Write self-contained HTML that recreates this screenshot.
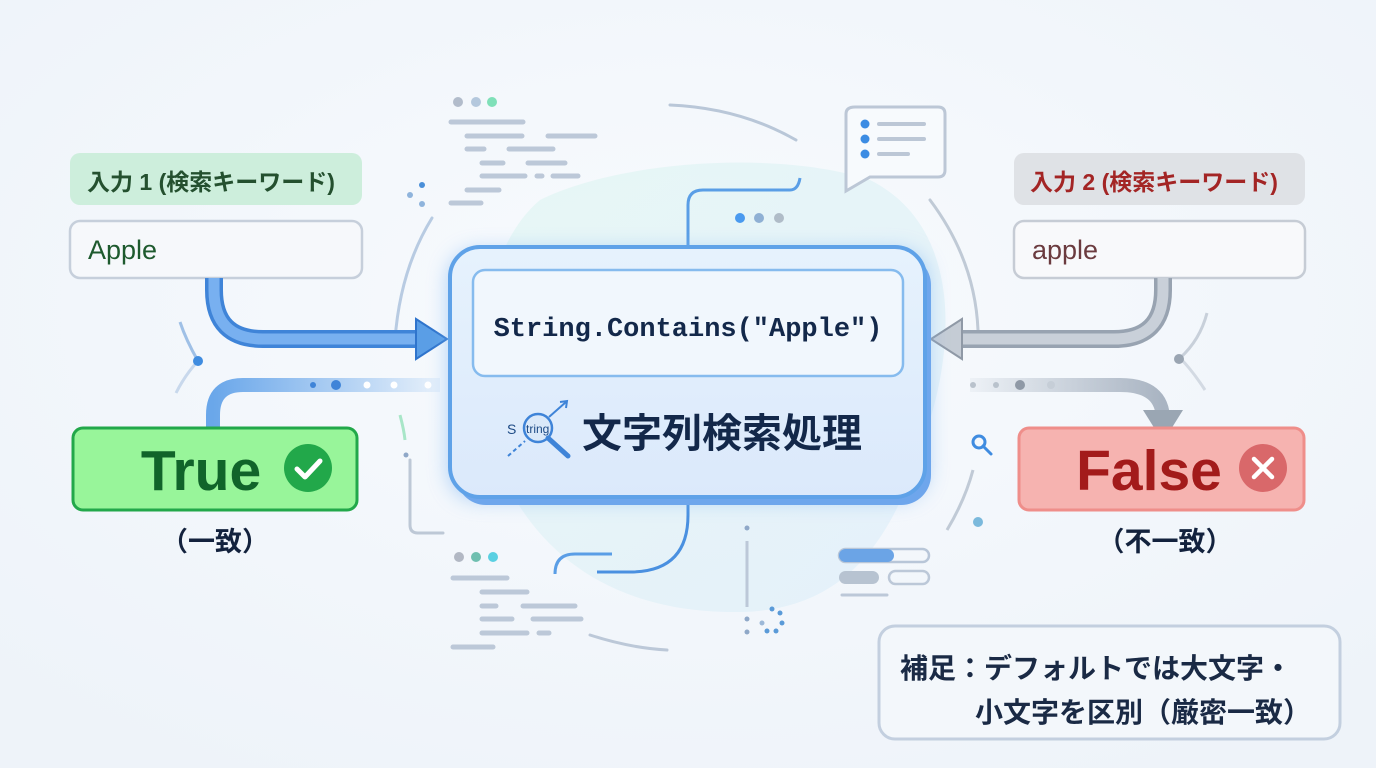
<!DOCTYPE html>
<html><head><meta charset="utf-8"><style>
html,body{margin:0;padding:0;width:1376px;height:768px;overflow:hidden;background:#f5f8fc}
svg{display:block}
text{font-family:"Liberation Sans","Noto Sans CJK JP",sans-serif}
</style></head><body>
<svg width="1376" height="768" viewBox="0 0 1376 768" xmlns="http://www.w3.org/2000/svg">
<defs>
<radialGradient id="bg" cx="50%" cy="40%" r="70%"><stop offset="0" stop-color="#f8fbfe"/><stop offset="1" stop-color="#eef3f9"/></radialGradient>
<linearGradient id="blob" x1="0" y1="0" x2="1" y2="1"><stop offset="0" stop-color="#e2f6f3"/><stop offset="1" stop-color="#e0eefa"/></linearGradient>
<linearGradient id="main" x1="0" y1="0" x2="0" y2="1"><stop offset="0" stop-color="#e6f2fd"/><stop offset="1" stop-color="#dbe9fb"/></linearGradient>
<linearGradient id="fadeB" x1="0" y1="0" x2="1" y2="0"><stop offset="0" stop-color="#6aa7ea"/><stop offset="1" stop-color="#6aa7ea" stop-opacity="0.1"/></linearGradient>
<linearGradient id="fadeG" x1="0" y1="0" x2="1" y2="0"><stop offset="0" stop-color="#a9b4c2" stop-opacity="0.1"/><stop offset="1" stop-color="#a9b4c2"/></linearGradient>
<filter id="glow" x="-20%" y="-20%" width="140%" height="140%"><feGaussianBlur stdDeviation="10"/></filter>
</defs>
<rect width="1376" height="768" fill="url(#bg)"/>
<path d="M540 200 C620 160 780 150 870 180 C950 220 960 320 930 420 C900 520 860 610 740 612 C620 614 540 560 500 470 C465 380 480 250 540 200Z" fill="url(#blob)" opacity="0.75"/>
<g><circle cx="458" cy="102" r="5" fill="#b2bccb"/><circle cx="476" cy="102" r="5" fill="#b4c8dd"/><circle cx="492" cy="102" r="5" fill="#7fe0b8"/></g>
<g stroke="#bcc8d8" stroke-width="5" stroke-linecap="round">
<line x1="451" y1="122" x2="523" y2="122"/><line x1="467" y1="136" x2="522" y2="136"/><line x1="548" y1="136" x2="595" y2="136"/>
<line x1="467" y1="149" x2="484" y2="149"/><line x1="509" y1="149" x2="553" y2="149"/>
<line x1="482" y1="163" x2="503" y2="163"/><line x1="528" y1="163" x2="565" y2="163"/>
<line x1="482" y1="176" x2="525" y2="176"/><line x1="537" y1="176" x2="542" y2="176"/><line x1="553" y1="176" x2="578" y2="176"/>
<line x1="467" y1="190" x2="499" y2="190"/><line x1="451" y1="203" x2="481" y2="203"/>
</g>
<circle cx="422" cy="185" r="3" fill="#4a8fd8"/><circle cx="410" cy="195" r="3" fill="#8fb4dc"/><circle cx="422" cy="204" r="3" fill="#8fb4dc"/>
<path d="M670 105 Q740 108 796 140" fill="none" stroke="#b9c7d8" stroke-width="3" stroke-linecap="round"/>
<path d="M432 218 Q400 270 395 340" fill="none" stroke="#b8cbe2" stroke-width="3" stroke-linecap="round"/>
<path d="M930 200 Q975 260 978 330" fill="none" stroke="#c0cad6" stroke-width="3" stroke-linecap="round"/>
<path d="M855 107 H938 Q945 107 945 114 V170 Q945 177 938 177 H870 L846 191 V114 Q846 107 855 107Z" fill="#f7fafd" stroke="#bcc7d6" stroke-width="3"/>
<g fill="#3c8ce3"><circle cx="865" cy="124" r="4.5"/><circle cx="865" cy="139" r="4.5"/><circle cx="865" cy="154" r="4.5"/></g>
<g stroke="#bcc7d6" stroke-width="4" stroke-linecap="round"><line x1="879" y1="124" x2="924" y2="124"/><line x1="879" y1="139" x2="924" y2="139"/><line x1="879" y1="154" x2="908" y2="154"/></g>
<path d="M688 245 V205 Q688 190 703 190 H790 Q798 190 800 178" fill="none" stroke="#5a9ee6" stroke-width="3"/>
<circle cx="740" cy="218" r="5" fill="#4a9aef"/><circle cx="759" cy="218" r="5" fill="#8fb0d4"/><circle cx="779" cy="218" r="5" fill="#b0bcc8"/>
<path d="M410 460 V525 Q410 533 418 533 H443" fill="none" stroke="#bdc8d6" stroke-width="3" stroke-linecap="round"/>
<path d="M400 415 Q404 430 405 440" fill="none" stroke="#a8e6c8" stroke-width="3"/>
<circle cx="406" cy="455" r="2.5" fill="#8fa8c8"/>
<circle cx="459" cy="557" r="5" fill="#b2b8c4"/><circle cx="476" cy="557" r="5" fill="#6fbfb0"/><circle cx="493" cy="557" r="5" fill="#5ad0e2"/>
<g stroke="#bcc8d8" stroke-width="5" stroke-linecap="round">
<line x1="453" y1="578" x2="507" y2="578"/><line x1="482" y1="592" x2="527" y2="592"/><line x1="482" y1="606" x2="496" y2="606"/><line x1="523" y1="606" x2="575" y2="606"/>
<line x1="482" y1="619" x2="512" y2="619"/><line x1="533" y1="619" x2="581" y2="619"/><line x1="482" y1="633" x2="527" y2="633"/><line x1="539" y1="633" x2="549" y2="633"/><line x1="453" y1="647" x2="493" y2="647"/>
</g>
<path d="M590 635 Q630 648 667 650" fill="none" stroke="#bcc8d8" stroke-width="3" stroke-linecap="round"/>
<path d="M688 505 V515 Q688 572 630 572 H597" fill="none" stroke="#4a90e0" stroke-width="3"/>
<path d="M555 574 Q555 554 575 554 H612" fill="none" stroke="#5a9ee6" stroke-width="3"/>
<circle cx="747" cy="528" r="2.5" fill="#8fa8c8"/><line x1="747" y1="541" x2="747" y2="607" stroke="#bcc8d8" stroke-width="3"/>
<circle cx="747" cy="619" r="2.5" fill="#8fa8c8"/><circle cx="747" cy="632" r="2.5" fill="#8fa8c8"/>
<g fill="#5a9ad8"><circle cx="772" cy="609" r="2.5"/><circle cx="780" cy="613" r="2.5"/><circle cx="782" cy="623" r="2.5"/><circle cx="776" cy="631" r="2.5"/><circle cx="767" cy="631" r="2.5"/><circle cx="762" cy="623" r="2.5" fill="#9cb8d8"/></g>
<rect x="839" y="549" width="90" height="13" rx="6.5" fill="#f3f7fb" stroke="#b8c6d8" stroke-width="2.5"/>
<rect x="839" y="549" width="55" height="13" rx="6.5" fill="#6ba4e6"/>
<rect x="839" y="571" width="40" height="13" rx="6.5" fill="#b7c3d1"/>
<rect x="889" y="571" width="40" height="13" rx="6.5" fill="none" stroke="#bcc8d8" stroke-width="2.5"/>
<line x1="842" y1="595" x2="887" y2="595" stroke="#bcc8d8" stroke-width="3" stroke-linecap="round"/>
<path d="M180 322 Q186 340 198 361" fill="none" stroke="#9fc0e6" stroke-width="3"/><path d="M198 361 Q185 375 176 393" fill="none" stroke="#c8d8ec" stroke-width="3"/>
<circle cx="198" cy="361" r="5" fill="#3f8ce0"/>
<path d="M1207 313 Q1200 340 1180 358" fill="none" stroke="#c8d0da" stroke-width="3"/><path d="M1180 358 Q1192 370 1205 390" fill="none" stroke="#d3dae3" stroke-width="3"/>
<circle cx="1179" cy="359" r="5" fill="#9aa5b2"/>
<path d="M973 470 Q965 500 947 530" fill="none" stroke="#c0cad6" stroke-width="3"/>
<circle cx="978" cy="522" r="5" fill="#7bb9dc"/>
<circle cx="979" cy="442" r="6" fill="none" stroke="#3f8ce0" stroke-width="3"/><line x1="983" y1="446" x2="991" y2="454" stroke="#3f8ce0" stroke-width="3" stroke-linecap="round"/>

<rect x="70" y="153" width="292" height="52" rx="10" fill="#cdeedc"/>
<text x="87" y="190" font-size="23" font-weight="bold" fill="#24502f">入力 1 (検索キーワード)</text>
<rect x="70" y="221" width="292" height="57" rx="10" fill="#f6f8fb" stroke="#c6cfdb" stroke-width="2.5"/>
<text x="88" y="259" font-size="27" fill="#1e5a2e">Apple</text>
<path d="M214 278 V290 Q214 339 263 339 H418" fill="none" stroke="#3f84d8" stroke-width="18"/>
<path d="M214 278 V290 Q214 339 263 339 H418" fill="none" stroke="#78b0f0" stroke-width="11"/>
<path d="M416 319 L447 339 L416 359Z" fill="#5a9ee6" stroke="#2f74cc" stroke-width="2"/>
<path d="M213 428 V415 Q213 385 243 385 H440" fill="none" stroke="url(#fadeB)" stroke-width="14"/>
<circle cx="313" cy="385" r="3" fill="#3f84d8"/><circle cx="336" cy="385" r="5" fill="#3f84d8"/>
<circle cx="367" cy="385" r="3.5" fill="#fff"/><circle cx="394" cy="385" r="3.5" fill="#fff"/><circle cx="428" cy="385" r="3.5" fill="#fff"/>
<rect x="73" y="428" width="284" height="82" rx="10" fill="#98f59a" stroke="#22a84a" stroke-width="3"/>
<text x="201" y="490" font-size="57" font-weight="bold" fill="#11642a" text-anchor="middle">True</text>
<circle cx="308" cy="468" r="24" fill="#22a84a"/>
<path d="M297 469 L305 477 L320 461" fill="none" stroke="#fff" stroke-width="5" stroke-linecap="round" stroke-linejoin="round"/>
<text x="215" y="551" font-size="27" font-weight="bold" fill="#13223d" text-anchor="middle">（一致）</text>

<rect x="1014" y="153" width="291" height="52" rx="10" fill="#dfe2e6"/>
<text x="1030" y="190" font-size="23" font-weight="bold" fill="#a32525">入力 2 (検索キーワード)</text>
<rect x="1014" y="221" width="291" height="57" rx="10" fill="#f8f9fb" stroke="#c6ccd5" stroke-width="2.5"/>
<text x="1032" y="259" font-size="27" fill="#6b3b3f">apple</text>
<path d="M1163 278 V290 Q1163 339 1114 339 H960" fill="none" stroke="#98a3b1" stroke-width="18"/>
<path d="M1163 278 V290 Q1163 339 1114 339 H960" fill="none" stroke="#c9d0d9" stroke-width="11"/>
<path d="M962 319 L931 339 L962 359Z" fill="#c5ccd5" stroke="#8f99a6" stroke-width="2"/>
<path d="M970 385 H1120 Q1163 385 1163 420" fill="none" stroke="url(#fadeG)" stroke-width="14"/>
<path d="M1143 410 L1183 410 L1163 442Z" fill="#9aa6b3"/>
<circle cx="973" cy="385" r="3" fill="#b9c2cc"/><circle cx="996" cy="385" r="3" fill="#b9c2cc"/><circle cx="1020" cy="385" r="5" fill="#8f99a6"/><circle cx="1051" cy="385" r="4" fill="#c6ced7"/>
<rect x="1019" y="428" width="285" height="82" rx="10" fill="#f6b3b0" stroke="#ef8e8a" stroke-width="3"/>
<text x="1149" y="490" font-size="57" font-weight="bold" fill="#a31b1b" text-anchor="middle">False</text>
<circle cx="1263" cy="468" r="24" fill="#d9686a"/>
<path d="M1254 459 L1272 477 M1272 459 L1254 477" stroke="#fff" stroke-width="4.5" stroke-linecap="round"/>
<text x="1165" y="551" font-size="27" font-weight="bold" fill="#13223d" text-anchor="middle">（不一致）</text>

<rect x="448" y="250" width="480" height="250" rx="30" fill="#7fb6f2" opacity="0.6" filter="url(#glow)"/>
<rect x="456" y="255" width="475" height="250" rx="30" fill="#6ea6ec"/>
<rect x="450" y="247" width="475" height="250" rx="30" fill="url(#main)" stroke="#5fa2e8" stroke-width="4"/>
<rect x="473" y="270" width="430" height="106" rx="12" fill="#f1f7fd" stroke="#86bbee" stroke-width="2.5"/>
<text x="688" y="336" font-size="27" font-weight="bold" fill="#13284a" text-anchor="middle" style="font-family:'Liberation Mono',monospace">String.Contains("Apple")</text>
<circle cx="538" cy="428" r="14" fill="#dbe9f9" stroke="#3f84d8" stroke-width="2.5"/>
<text x="507" y="434" font-size="14" fill="#1d4a85">S</text>
<text x="526" y="433" font-size="12" fill="#1d4a85">tring</text>
<line x1="548" y1="438" x2="568" y2="456" stroke="#3f84d8" stroke-width="5" stroke-linecap="round"/>
<line x1="549" y1="417" x2="566" y2="402" stroke="#3f84d8" stroke-width="2"/><path d="M560 402 L567 401 L566 408" fill="none" stroke="#3f84d8" stroke-width="2"/>
<line x1="508" y1="456" x2="525" y2="441" stroke="#3f84d8" stroke-width="2" stroke-dasharray="4 3"/>
<text x="582" y="447" font-size="40" font-weight="bold" fill="#13284a">文字列検索処理</text>

<rect x="879" y="626" width="461" height="113" rx="16" fill="#f3f7fb" stroke="#c3cfdf" stroke-width="3"/>
<text x="900" y="678" font-size="28" font-weight="bold" fill="#1a2a45">補足：デフォルトでは大文字・</text>
<text x="1311" y="722" font-size="28" font-weight="bold" fill="#1a2a45" text-anchor="end">小文字を区別（厳密一致）</text>
</svg>
</body></html>
